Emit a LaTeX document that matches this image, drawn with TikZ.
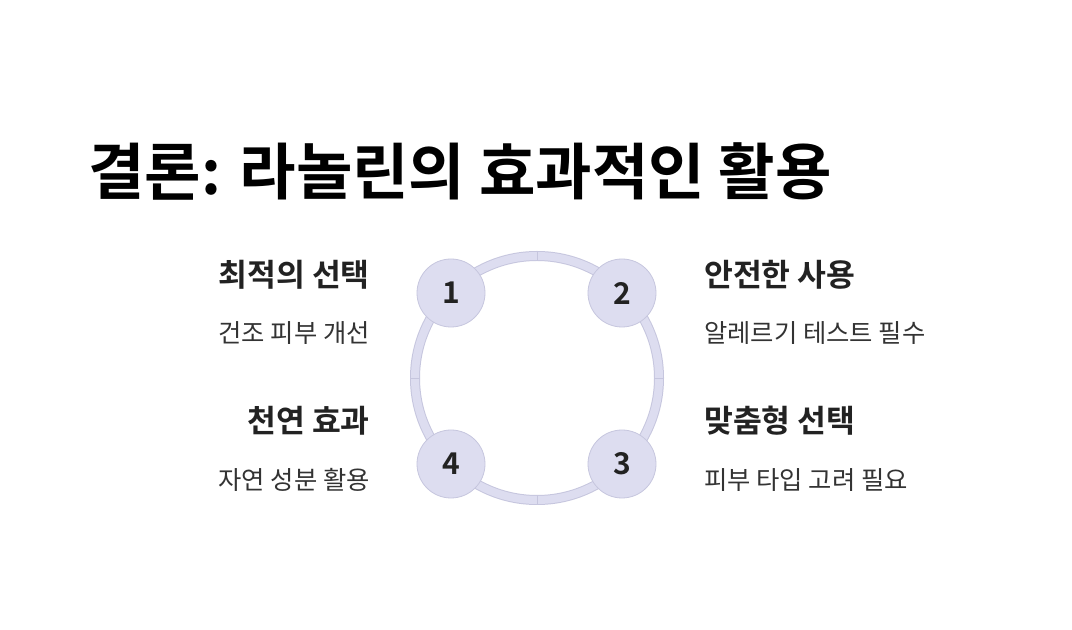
\documentclass[tikz,border=0pt]{standalone}
\usepackage{fontspec}
\setmainfont{Noto Sans CJK KR}[BoldFont={Noto Sans CJK KR Bold}]
\usetikzlibrary{positioning,calc}
\definecolor{ringfill}{HTML}{DDDDF0}
\definecolor{ringedge}{HTML}{C6C6DE}
\definecolor{ink}{HTML}{222222}
\definecolor{subink}{HTML}{333333}

\tikzset{
  numdot/.style={circle,fill=ringfill,draw=ringedge,line width=0.6pt,
    minimum size=51pt,inner sep=0pt,text=ink,font=\fontsize{22.5}{26}\selectfont\bfseries},
  headleft/.style={anchor=east,inner sep=0pt,text=ink,font=\fontsize{23.5}{28}\selectfont\bfseries},
  subleft/.style={anchor=east,inner sep=0pt,text=subink,font=\fontsize{19}{23}\selectfont},
  headright/.style={anchor=west,inner sep=0pt,text=ink,font=\fontsize{23.5}{28}\selectfont\bfseries},
  subright/.style={anchor=west,inner sep=0pt,text=subink,font=\fontsize{19}{23}\selectfont}
}

\begin{document}
\begin{tikzpicture}[x=0.75pt,y=-0.75pt]
  \useasboundingbox (0,0) rectangle (1072,630);
  \fill[white] (0,0) rectangle (1072,630);

  % title
  \node[anchor=base west,text=black,font=\fontsize{46}{54}\selectfont\bfseries,inner sep=0pt]
    (title) at (88,195) {결론: 라놀린의 효과적인 활용};

  % ring, centre (537,378)
  \coordinate (hub) at (537,378);
  \draw[ringedge,line width=7.5pt] (hub) circle[radius=122];
  \draw[ringfill,line width=6pt] (hub) circle[radius=122];
  \foreach \a in {0,90,180,270}
    \draw[ringedge,line width=0.6pt] ($(hub)+(\a:117.5)$) -- ($(hub)+(\a:126.5)$);

  % steps
  \node[numdot] (n1) at (451,293) {1};
  \node[numdot] (n2) at (622,293) {2};
  \node[numdot] (n3) at (622,464) {3};
  \node[numdot] (n4) at (451,464) {4};

  % left labels
  \node[headleft] (h1) at (370,275) {최적의 선택};
  \node[subleft]  (s1) at (370,333) {건조 피부 개선};
  \node[headleft] (h4) at (370,421) {천연 효과};
  \node[subleft]  (s4) at (370,480) {자연 성분 활용};

  % right labels
  \node[headright] (h2) at (704,275) {안전한 사용};
  \node[subright]  (s2) at (704,333) {알레르기 테스트 필수};
  \node[headright] (h3) at (704,421) {맞춤형 선택};
  \node[subright]  (s3) at (704,480) {피부 타입 고려 필요};
\end{tikzpicture}
\end{document}
